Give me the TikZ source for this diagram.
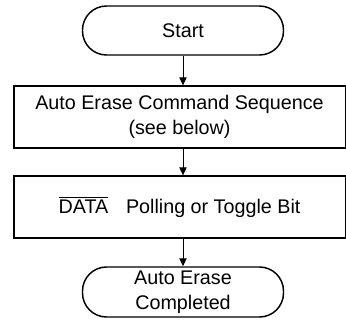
\documentclass[tikz,border=0pt]{standalone}
\usepackage{fontspec}
\setmainfont{Liberation Sans}
\usetikzlibrary{arrows.meta}
\tikzset{
  terminal/.style={draw, line width=1.1pt, rounded corners=18pt, minimum width=150.75pt,
    align=center, inner sep=0pt},
  process/.style={draw, line width=1.5pt, minimum width=249pt, minimum height=46pt,
    align=center, inner sep=0pt},
  flow/.style={-{Triangle[length=6pt,width=5.5pt]}, line width=0.75pt}
}
\begin{document}
\begin{tikzpicture}[x=0.75pt,y=0.75pt,font=\fontsize{14.8}{18.5}\selectfont]
\useasboundingbox (0,0) rectangle (346,322);
\clip (0,0) rectangle (346,322);
% terminals and steps
\node[terminal, minimum height=36.75pt] (start) at (183,291.5) {Start};
\node[process] (seq) at (179.5,205) {Auto Erase Command Sequence\\(see below)};
\node[process] (poll) at (179.5,115)
  {$\overline{\mbox{DATA}}$\hspace{0.9em}Polling or Toggle Bit};
\node[terminal, minimum height=37.5pt] (done) at (183,30) {Auto Erase\\Completed};

\draw[flow] (start) -- (start |- seq.north);
\draw[flow] (start |- seq.south) -- (start |- poll.north);
\draw[flow] (start |- poll.south) -- (done);
\end{tikzpicture}
\end{document}
